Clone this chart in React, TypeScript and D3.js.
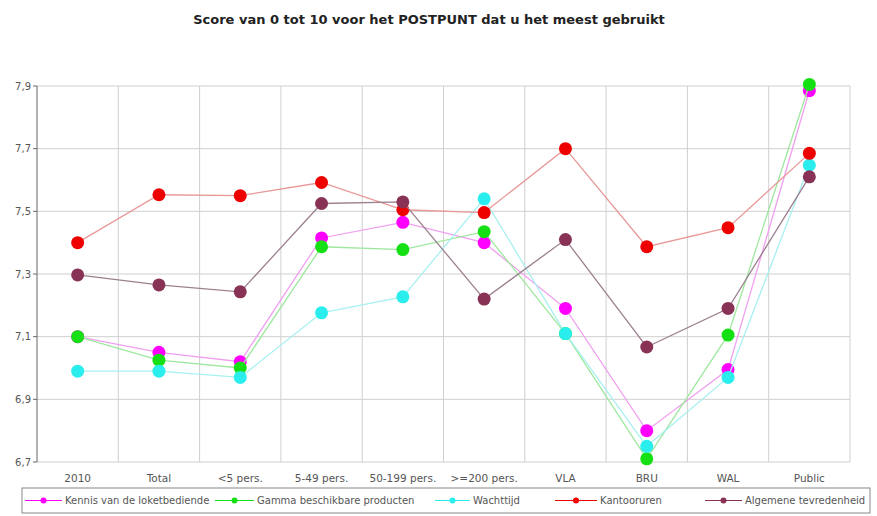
import React from "react";
import * as d3 from "d3";

const categories = ["2010", "Total", "<5 pers.", "5-49 pers.", "50-199 pers.", ">=200 pers.", "VLA", "BRU", "WAL", "Public"];
const yTicks = [6.7, 6.9, 7.1, 7.3, 7.5, 7.7, 7.9];

const kennis = [7.1, 7.05, 7.02, 7.415, 7.465, 7.4, 7.19, 6.8, 6.995, 7.885];
const gamma = [7.1, 7.025, 7.0, 7.387, 7.378, 7.435, 7.11, 6.71, 7.105, 7.905];
const wachttijd = [6.99, 6.99, 6.97, 7.176, 7.227, 7.54, 7.11, 6.75, 6.97, 7.647];
const kantooruren = [7.4, 7.553, 7.55, 7.592, 7.505, 7.496, 7.7, 7.387, 7.448, 7.685];
const algemeen = [7.297, 7.265, 7.243, 7.525, 7.53, 7.22, 7.41, 7.067, 7.19, 7.61];

const seriesNames = ["Kennis van de loketbediende", "Gamma beschikbare producten", "Wachttijd", "Kantooruren", "Algemene tevredenheid"];
const seriesValues = [kennis, gamma, wachttijd, kantooruren, algemeen];
const markerColors = ["#ff00ff", "#14e014", "#2aeeee", "#ee0000", "#883355"];
const lineColors = ["#f0a0f0", "#9ee89e", "#a8f0f0", "#e89898", "#9c8090"];

const W = 877, H = 516;
const M = { left: 37, right: 850, top: 86, bottom: 462 };

export default function App() {
  const x = d3.scaleBand<string>().domain(categories).range([M.left, M.right]);
  const y = d3.scaleLinear().domain([6.7, 7.9]).range([M.bottom, M.top]);
  const cx = (c: string) => (x(c) as number) + x.bandwidth() / 2;
  const line = d3.line<number>().x((_, i) => cx(categories[i])).y(d => y(d));
  const font = "'DejaVu Sans', Verdana, sans-serif";

  const legendItems = [
    { lx: 25, tx: 65 },
    { lx: 215, tx: 257 },
    { lx: 435, tx: 473 },
    { lx: 555, tx: 600 },
    { lx: 705, tx: 745 },
  ];

  return (
    <svg width={W} height={H} style={{ position: "absolute", left: 0, top: 0, background: "#fff" }} fontFamily={font}>
      <rect x={0} y={0} width={W} height={H} fill="#fff" />
      <text x={429} y={24} textAnchor="middle" fontSize={13} fontWeight="bold" fill="#222">
        Score van 0 tot 10 voor het POSTPUNT dat u het meest gebruikt
      </text>
      {yTicks.map(t => (
        <line key={"h" + t} x1={M.left} x2={M.right} y1={y(t)} y2={y(t)} stroke="#cfcfcf" strokeWidth={1} />
      ))}
      {categories.map(c => (
        <line key={"v" + c} x1={(x(c) as number) + x.bandwidth()} x2={(x(c) as number) + x.bandwidth()} y1={M.top} y2={M.bottom} stroke="#cfcfcf" strokeWidth={1} />
      ))}
      <line x1={M.left} x2={M.left} y1={M.top} y2={M.bottom} stroke="#666" strokeWidth={1} />
      {yTicks.map(t => (
        <g key={"t" + t}>
          <line x1={M.left - 4} x2={M.left} y1={y(t)} y2={y(t)} stroke="#666" />
          <text x={M.left - 6} y={y(t) + 3.5} textAnchor="end" fontSize={10} fill="#555">
            {d3.format(".1f")(t).replace(".", ",")}
          </text>
        </g>
      ))}
      {categories.map(c => (
        <text key={"x" + c} x={cx(c)} y={482} textAnchor="middle" fontSize={10.5} fill="#555">{c}</text>
      ))}
      {seriesValues.map((vals, si) => (
        <g key={"s" + si}>
          <path d={line(vals) as string} fill="none" stroke={lineColors[si]} strokeWidth={1.3} />
          {vals.map((v, i) => (
            <circle key={i} cx={cx(categories[i])} cy={y(v)} r={6.5} fill={markerColors[si]} />
          ))}
        </g>
      ))}
      <rect x={22} y={488} width={848} height={25} fill="#fff" stroke="#888" strokeWidth={1} />
      {legendItems.map((it, i) => (
        <g key={"l" + i}>
          <line x1={it.lx} x2={it.tx - 3} y1={500.5} y2={500.5} stroke={markerColors[i]} strokeWidth={1.2} />
          <circle cx={(it.lx + it.tx - 3) / 2} cy={500.5} r={3} fill={markerColors[i]} />
          <text x={it.tx} y={504} fontSize={10} fill="#555">{seriesNames[i]}</text>
        </g>
      ))}
    </svg>
  );
}
